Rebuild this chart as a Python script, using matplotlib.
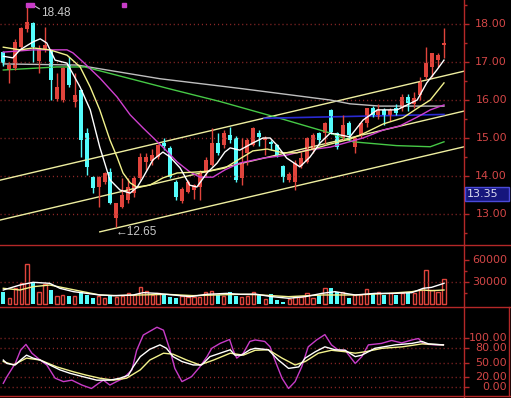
import matplotlib
matplotlib.use("Agg")
import matplotlib.pyplot as plt
from matplotlib.patches import Rectangle
from matplotlib.lines import Line2D

W, H = 511, 398

# daily candles (75 sessions)
opens = [17.27, 16.80, 16.85, 17.40, 17.86, 18.03, 17.03, 17.33, 17.32, 16.02,
         16.00, 16.92, 15.96, 16.26, 15.12, 13.98, 13.72, 13.85, 14.10, 12.90,
         13.19, 13.37, 13.54, 13.94, 14.38, 14.40, 14.51, 14.86, 14.73, 13.85,
         13.35, 13.59, 13.63, 13.72, 14.07, 14.29, 14.86, 14.82, 15.08, 14.99,
         13.94, 14.60, 14.82, 15.12, 14.95, 14.90, 14.82, 14.25, 13.89, 13.85,
         14.25, 14.38, 14.68, 15.12, 15.12, 15.74, 15.12, 14.99, 15.39, 14.77,
         15.08, 15.39, 15.78, 15.56, 15.74, 15.60, 15.78, 15.78, 16.09, 15.90,
         16.13, 16.61, 16.88, 17.05, 17.45]
highs = [17.30, 17.00, 17.60, 17.92, 18.48, 18.05, 17.45, 17.93, 17.35, 16.70,
         16.88, 17.14, 16.72, 16.30, 15.26, 14.00, 14.00, 14.10, 14.20, 13.30,
         13.94, 13.94, 14.00, 14.60, 14.60, 14.70, 14.85, 14.99, 14.80, 13.90,
         13.70, 13.90, 13.80, 14.16, 14.50, 15.26, 15.12, 15.20, 15.30, 15.05,
         14.99, 15.00, 15.30, 15.20, 15.05, 14.95, 14.85, 14.29, 14.10, 14.42,
         14.64, 15.03, 15.12, 15.15, 15.43, 15.76, 15.15, 15.61, 15.45, 15.05,
         15.45, 15.80, 15.85, 15.90, 15.78, 15.78, 15.90, 16.15, 16.15, 16.20,
         16.60, 17.40, 17.25, 17.25, 17.89]
lows = [16.90, 16.44, 16.80, 17.35, 17.80, 17.00, 16.71, 17.27, 16.00, 15.98,
        15.95, 16.35, 15.81, 14.51, 14.03, 13.55, 13.19, 13.80, 13.25, 12.65,
        13.15, 13.28, 13.46, 13.90, 14.16, 14.30, 14.45, 14.68, 13.95, 13.36,
        13.30, 13.55, 13.40, 13.37, 14.00, 14.25, 14.55, 14.75, 14.86, 13.85,
        13.76, 14.30, 14.78, 14.80, 14.55, 14.68, 14.50, 13.85, 13.85, 13.63,
        14.20, 14.33, 14.60, 14.85, 14.85, 15.10, 14.70, 14.95, 14.95, 14.60,
        15.00, 15.30, 15.55, 15.50, 15.34, 15.45, 15.60, 15.70, 15.70, 15.80,
        16.00, 16.55, 16.60, 16.88, 17.10]
closes = [16.97, 16.92, 17.53, 17.89, 18.06, 17.40, 17.36, 17.45, 16.53, 16.33,
          16.83, 16.39, 16.13, 14.95, 14.24, 13.68, 13.98, 14.07, 13.28, 13.28,
          13.50, 13.72, 13.94, 14.51, 14.51, 14.55, 14.82, 14.78, 13.98, 13.46,
          13.65, 13.85, 13.76, 14.07, 14.42, 14.86, 14.60, 15.12, 14.95, 13.89,
          14.33, 14.95, 15.26, 15.03, 15.00, 14.85, 14.55, 13.98, 14.05, 14.33,
          14.47, 14.99, 15.08, 14.95, 15.39, 15.17, 14.77, 15.34, 15.08, 14.99,
          15.39, 15.78, 15.61, 15.74, 15.61, 15.75, 15.65, 16.09, 15.92, 16.05,
          16.48, 16.97, 17.23, 17.18, 17.51]
volumes = [16800, 7800, 21400, 28200, 54500, 28200, 16800, 27300, 19100, 11400,
           12300, 11400, 11400, 16800, 12300, 7800, 10900, 7800, 12300, 10000,
           11400, 14500, 12300, 22700, 18200, 12300, 14500, 12300, 10000, 7800,
           10900, 10000, 9100, 10000, 15900, 18200, 12300, 11400, 15900, 11400,
           9100, 11400, 16800, 12300, 6400, 13600, 5500, 3200, 6400, 10000,
           10000, 15500, 7800, 12300, 21400, 22300, 16800, 16800, 7800, 12300,
           12300, 20000, 14500, 16800, 12300, 14500, 12300, 15500, 14500, 14500,
           19100, 46400, 19100, 16800, 33700]

# moving averages on the price panel (candle index, price)
ma5_x = [0, 1.6, 2.8, 5.0, 6.2, 7.3, 8.7, 10.7, 12.9, 14.6, 16.2, 17.9, 19.6, 21.3,
         22.5, 23.5, 25.1, 26.8, 28.0, 29.7, 31.3, 32.5, 34.2, 35.9, 37.2, 38.1,
         39.7, 41.9, 43.6, 44.8, 45.9, 47.6, 49.8, 51.5, 53.2, 54.9, 58.2, 60.4,
         62.8, 66.1, 69.5, 71.1, 72.8, 74.0]
ma5_y = [17.15, 17.11, 17.32, 17.53, 17.61, 17.50, 17.05, 16.97, 16.34, 15.74, 14.76,
         13.90, 13.63, 13.55, 13.71, 13.97, 14.42, 14.63, 14.50, 14.21, 13.76, 13.71,
         14.08, 14.34, 14.63, 14.74, 14.68, 14.87, 15.00, 15.00, 14.82, 14.47, 14.24,
         14.50, 14.87, 15.13, 15.03, 15.47, 15.74, 15.74, 16.00, 16.45, 16.79, 17.05]
ma10_x = [0, 2.8, 5.0, 7.8, 10.7, 12.9, 14.6, 16.2, 17.9, 19.1, 20.1, 21.3, 22.4,
          24.6, 26.8, 29.2, 31.9, 34.7, 37.2, 39.7, 41.9, 44.3, 47.0, 49.3, 52.0,
          54.9, 58.2, 60.4, 63.8, 67.1, 69.5, 71.7, 74.0]
ma10_y = [17.39, 17.32, 17.37, 17.32, 17.18, 16.87, 16.34, 15.74, 14.95, 14.50, 14.08,
          13.82, 13.71, 13.76, 13.95, 14.08, 14.10, 14.13, 14.21, 14.45, 14.66, 14.71,
          14.61, 14.61, 14.71, 14.84, 14.97, 15.11, 15.37, 15.53, 15.78, 16.00, 16.45]
ma20_x = [0, 5.0, 10.7, 11.7, 13.4, 16.2, 19.1, 21.3, 23.5, 26.8, 29.2, 31.3, 33.0,
          35.2, 37.2, 39.7, 43.6, 47.6, 51.0, 54.9, 60.4, 63.8, 66.6, 69.5, 71.7, 74.0]
ma20_y = [17.26, 17.32, 17.32, 17.24, 17.00, 16.58, 16.08, 15.61, 15.26, 14.76, 14.37,
          14.11, 13.97, 13.97, 14.16, 14.34, 14.47, 14.55, 14.68, 14.76, 15.00, 15.21,
          15.32, 15.55, 15.74, 15.87]
ma60_x = [0, 9.0, 13.7, 28.0, 36.4, 46.4, 54.9, 58.7, 66.0, 71.7, 74.0]
ma60_y = [16.79, 16.87, 16.87, 16.29, 15.96, 15.52, 15.13, 14.90, 14.80, 14.77, 14.90]
ma120_x = [0, 12.4, 26.3, 40.0, 54.9, 58.2, 63.2, 74.0]
ma120_y = [16.95, 16.92, 16.56, 16.30, 16.00, 15.90, 15.84, 15.84]
blue_x = [43.8, 74.0]
blue_y = [15.52, 15.62]

# parallel channel (index, price) end points
chan_x = [[-0.55, 77.4], [-0.55, 77.4], [16.2, 77.4]]
chan_y = [[13.89, 16.76], [12.84, 15.71], [12.53, 14.77]]

# volume averages
vma5_x = [0, 2.8, 5.0, 7.8, 9.5, 11.8, 14.0, 16.2, 18.5, 21.8, 23.5, 25.8, 28.5, 31.4,
          34.1, 37.5, 39.8, 42.3, 45.1, 47.9, 50.7, 53.5, 55.7, 59.1, 62.4, 65.8,
          68.6, 70.5, 71.9, 74.0]
vma5_y = [19100, 25900, 29600, 28200, 21400, 16800, 14500, 12300, 11400, 12300, 15500,
          14500, 12300, 10000, 13200, 14500, 13200, 13500, 10000, 7800, 10000, 14500,
          16800, 12300, 14500, 14500, 15500, 21400, 22700, 28200]
vma10_x = [0, 2.8, 5.0, 7.8, 10.6, 13.4, 16.2, 19.0, 23.0, 27.4, 31.9, 35.8, 39.8,
           42.3, 47.9, 53.5, 59.1, 64.7, 68.6, 70.3, 72.0, 74.0]
vma10_y = [21400, 19100, 23600, 25900, 21400, 16800, 12300, 11400, 12300, 13200, 11400,
           12300, 13200, 12800, 10000, 12300, 12300, 14500, 16800, 19100, 18200, 19100]

# KDJ
k_x = [0, 0.6, 2.0, 2.9, 3.9, 5.0, 6.2, 7.8, 9.5, 11.2, 13.4, 15.7, 17.9, 19.6, 21.0,
       21.8, 23.0, 24.6, 26.3, 27.4, 28.5, 30.0, 31.9, 33.3, 34.7, 36.4, 38.1, 38.9,
       40.0, 41.4, 42.3, 44.5, 46.2, 47.9, 49.6, 50.7, 52.4, 54.0, 55.7, 57.4, 59.1,
       60.2, 62.4, 65.8, 68.6, 70.3, 71.4, 73.9]
k_y = [55, 48, 45, 55, 65, 59, 55, 45, 35, 28, 21, 14, 14, 18, 24, 41, 62, 77, 86, 79,
       62, 52, 45, 45, 62, 69, 76, 65, 65, 76, 79, 76, 55, 38, 41, 59, 72, 82, 76, 75,
       62, 65, 79, 86, 89, 93, 88, 86]
d_x = [0, 1.7, 3.9, 6.2, 9.0, 11.8, 14.0, 16.2, 18.5, 20.7, 23.0, 24.6, 26.9, 28.5,
       30.8, 33.0, 35.3, 38.1, 40.3, 42.3, 44.5, 46.8, 49.0, 50.7, 52.9, 55.1, 57.4,
       59.1, 60.8, 63.6, 67.0, 70.3, 73.9]
d_y = [52, 45, 59, 55, 41, 31, 24, 18, 14, 18, 35, 55, 69, 67, 55, 45, 55, 69, 65, 75,
       76, 59, 45, 52, 69, 75, 72, 69, 72, 79, 82, 88, 86]
j_x = [0, 0.6, 2.0, 2.9, 3.8, 4.8, 6.2, 7.3, 8.7, 10.1, 11.5, 13.2, 14.8, 16.0, 16.8,
       17.9, 19.0, 20.2, 21.6, 22.4, 23.5, 25.8, 26.9, 28.0, 28.8, 30.0, 31.6, 33.0,
       34.2, 35.0, 36.4, 38.0, 38.6, 39.2, 40.3, 41.4, 42.3, 43.9, 44.8, 45.6, 46.8,
       47.9, 49.0, 50.1, 51.2, 52.6, 54.0, 55.1, 56.3, 57.4, 59.1, 60.2, 61.3, 63.5,
       65.2, 66.9, 68.6, 69.7, 70.5, 71.4, 72.5, 73.9]
j_y = [7.5, 21, 48, 75, 87, 69, 55, 45, 18, 11, 14, 4, -3, 7.5, 14, 4, 11, 18, 35, 75,
       106, 122, 116, 75, 38, 11, 21, 41, 62, 79, 89, 97, 75, 59, 69, 93, 96, 93, 82,
       55, 18, -3, 11, 41, 82, 96, 107, 86, 75, 75, 48, 62, 86, 89, 95, 90, 96, 99, 89,
       87, 86, 86]

RED = '#e0443c'
CYAN = '#54fcfc'
AXIS = '#b42828'
LABEL = '#d24646'
GRID = '#8c2828'
XLIM = (-0.554, 77.36)


def box(x0, y0, x1, y1):
    # pixel rectangle (top-left origin) -> figure fraction
    return [x0 / W, 1 - y1 / H, (x1 - x0) / W, (y1 - y0) / H]


def setup(ax, ylim, ticks, labels, minor=None):
    ax.set_facecolor('black')
    ax.set_xlim(*XLIM)
    ax.set_ylim(*ylim)
    for s in ['top', 'left', 'bottom']:
        ax.spines[s].set_visible(False)
    ax.spines['right'].set_color(AXIS)
    ax.spines['right'].set_linewidth(1)
    ax.set_xticks([])
    ax.yaxis.tick_right()
    ax.set_yticks(ticks)
    ax.set_yticklabels([])
    if minor is not None:
        ax.set_yticks(minor, minor=True)
    ax.tick_params(axis='y', which='major', length=3.6, width=1, color=AXIS)
    ax.tick_params(axis='y', which='minor', length=2.2, width=1, color=AXIS)
    for t, lab in zip(ticks, labels):
        ax.text(507 / 464, t, lab, transform=ax.get_yaxis_transform(), ha='right',
                va='center', color=LABEL, fontsize=8, clip_on=False)


fig = plt.figure(figsize=(W / 100, H / 100), dpi=100, facecolor='black')

ax_p = fig.add_axes(box(0, 0, 464, 245))
ax_v = fig.add_axes(box(0, 245, 464, 307))
ax_k = fig.add_axes(box(0, 307, 464, 397))

price_ticks = [13, 14, 15, 16, 17, 18]
setup(ax_p, (12.184, 18.632), price_ticks, ['%.2f' % t for t in price_ticks],
      minor=[12.5, 13.5, 14.5, 15.5, 16.5, 17.5, 18.5])
setup(ax_v, (-4092, 80476), [30000, 60000], ['30000', '60000'], minor=[15000, 45000])
kdj_ticks = [0, 20, 50, 80, 100]
setup(ax_k, (-20.4, 163.3), kdj_ticks, ['%.2f' % t for t in kdj_ticks])

dots = (0, (0.8, 2.1))
for t in price_ticks:
    ax_p.axhline(t, color=GRID, lw=1, ls=dots)
ax_v.axhline(30000, color=GRID, lw=1, ls=dots)
for t in kdj_ticks:
    ax_k.axhline(t, color=GRID, lw=1, ls=dots)

# channel lines
for cx, cy in zip(chan_x, chan_y):
    ax_p.plot(cx, cy, color='#eeeea0', lw=1)

# long averages
ax_p.plot(ma120_x, ma120_y, color='#bebebe', lw=1)
ax_p.plot(ma60_x, ma60_y, color='#46c846', lw=1)
ax_p.plot(blue_x, blue_y, color='#2a2ad2', lw=1.2)

# candles
for i in range(len(opens)):
    o, hi, lo, c = opens[i], highs[i], lows[i], closes[i]
    col = RED if c >= o else CYAN
    ax_p.vlines(i, lo, hi, color=col, lw=1)
    ax_p.bar(i, max(abs(c - o), 0.025), 0.67, min(o, c), color=col, lw=0)

ax_p.plot(ma20_x, ma20_y, color='#d040d0', lw=1)
ax_p.plot(ma10_x, ma10_y, color='#f2f28c', lw=1)
ax_p.plot(ma5_x, ma5_y, color='white', lw=1)

# high / low annotations
ax_p.plot([5.0, 6.05], [18.50, 18.40], color='#c8c8c8', lw=0.8, clip_on=False)
ax_p.text(6.28, 18.30, '18.48', color='#c8c8c8', fontsize=8.5, family='Liberation Sans',
          ha='left', va='center')
ax_p.text(18.9, 12.53, '\u219012.65', color='#c8c8c8', fontsize=8.5,
          family=['Liberation Sans', 'DejaVu Sans'], ha='left', va='center')
ax_p.plot([4.1, 4.9, 20.3], [18.50, 18.50, 18.50], ls='none', marker='s', ms=3,
          color='#c83cc8', clip_on=False)

# volume
for i, v in enumerate(volumes):
    if closes[i] >= opens[i]:
        ax_v.bar(i, v, 0.55, color='black', edgecolor=RED, lw=1)
    else:
        ax_v.bar(i, v, 0.67, color=CYAN, lw=0)
ax_v.plot(vma10_x, vma10_y, color='#f2f28c', lw=1)
ax_v.plot(vma5_x, vma5_y, color='white', lw=1)

# KDJ
ax_k.plot(j_x, j_y, color='#c83cc8', lw=1)
ax_k.plot(d_x, d_y, color='#f2f28c', lw=1)
ax_k.plot(k_x, k_y, color='white', lw=1)

# panel separators and right box
for y in [245, 307, 396]:
    fig.add_artist(Line2D([0, 1], [1 - y / H] * 2, transform=fig.transFigure,
                          color=AXIS, lw=1))
fig.add_artist(Line2D([509 / W] * 2, [1 - 307 / H, 1 - 396 / H],
                      transform=fig.transFigure, color=AXIS, lw=1))

# current price tag
fig.add_artist(Rectangle((464.5 / W, 1 - 200.5 / H), 44.5 / W, 13.5 / H,
                         transform=fig.transFigure, facecolor='#16167c',
                         edgecolor='#4a4ad8', lw=1))
fig.text(466.5 / W, 1 - 193.8 / H, '13.35', color='#dcdcf0', fontsize=8,
         ha='left', va='center')

fig.savefig('out.png', dpi=100, facecolor='black')
